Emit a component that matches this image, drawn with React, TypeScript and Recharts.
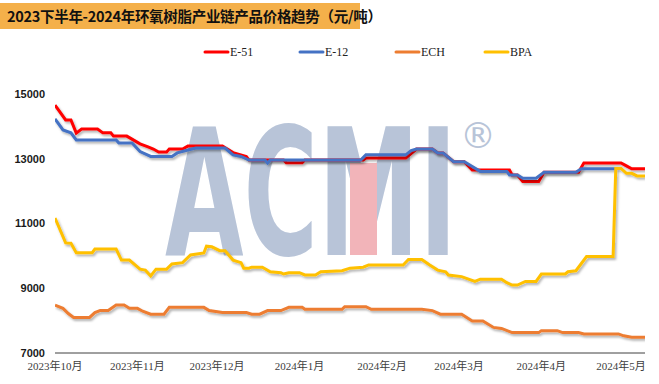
import React from 'react';
import { LineChart, Line, XAxis, YAxis } from 'recharts';

const titleText = '2023下半年-2024年环氧树脂产业链产品价格趋势（元/吨）';
const monthLabels = ['2023年10月', '2023年11月', '2023年12月', '2024年1月', '2024年2月', '2024年3月', '2024年4月', '2024年5月'];
const monthStartDays = [0, 31, 61, 92, 123, 152, 183, 213];
const yTicks = [7000, 9000, 11000, 13000, 15000];

const e51Days = [0, 4, 6, 8, 10, 16, 18, 21, 22, 27, 32, 35, 37, 39, 42, 43, 48, 50, 63, 67, 72, 73, 86, 87, 93, 94, 116, 117, 132, 136, 142, 144, 146, 150, 154, 157, 171, 172, 174, 176, 182, 184, 197, 199, 213, 215, 217, 222];
const e51Values = [14660, 14200, 14200, 13790, 13920, 13920, 13800, 13800, 13700, 13700, 13460, 13370, 13300, 13210, 13210, 13300, 13300, 13390, 13390, 13190, 13070, 12960, 12960, 12880, 12880, 12960, 12960, 13020, 13020, 13300, 13300, 13180, 13180, 12910, 12910, 12650, 12650, 12500, 12500, 12300, 12300, 12580, 12580, 12870, 12870, 12780, 12690, 12690];

const e12Days = [0, 3, 6, 8, 23, 24, 29, 32, 36, 44, 46, 50, 53, 64, 67, 70, 73, 79, 80, 81, 115, 117, 132, 134, 136, 142, 144, 146, 150, 154, 157, 160, 170, 171, 174, 176, 181, 184, 196, 198, 211];
const e12Values = [14230, 13890, 13800, 13580, 13580, 13490, 13490, 13220, 13070, 13070, 13180, 13270, 13330, 13330, 13120, 13070, 12960, 12960, 12870, 12960, 12960, 13120, 13120, 13250, 13300, 13300, 13180, 13180, 12910, 12910, 12760, 12610, 12610, 12500, 12500, 12400, 12400, 12580, 12580, 12690, 12690];

const echDays = [0, 3, 5, 7, 13, 15, 17, 20, 23, 26, 28, 31, 33, 36, 41, 43, 56, 58, 63, 72, 74, 77, 80, 85, 88, 93, 94, 108, 109, 117, 119, 138, 142, 145, 153, 157, 161, 165, 168, 172, 182, 183, 189, 191, 197, 199, 212, 214, 217, 222];
const echValues = [8480, 8380, 8220, 8100, 8100, 8250, 8310, 8310, 8480, 8480, 8380, 8380, 8290, 8200, 8200, 8410, 8410, 8310, 8250, 8250, 8200, 8200, 8310, 8310, 8410, 8410, 8350, 8350, 8430, 8430, 8350, 8350, 8310, 8200, 8200, 7990, 7990, 7790, 7760, 7630, 7630, 7690, 7690, 7630, 7630, 7590, 7590, 7530, 7490, 7490];

const bpaDays = [0, 4, 6, 8, 14, 15, 23, 25, 28, 32, 34, 36, 38, 42, 44, 48, 51, 56, 57, 59, 62, 64, 67, 70, 71, 73, 74, 78, 81, 85, 86, 88, 92, 94, 98, 100, 108, 111, 116, 118, 131, 133, 138, 141, 144, 147, 148, 153, 158, 160, 168, 170, 172, 174, 177, 181, 183, 192, 193, 196, 200, 210, 211, 213, 215, 217, 219, 222];
const bpaValues = [11170, 10400, 10390, 10100, 10100, 10210, 10210, 9870, 9870, 9590, 9560, 9380, 9590, 9590, 9750, 9790, 10030, 10090, 10300, 10280, 10160, 10160, 9870, 9790, 9620, 9620, 9650, 9650, 9510, 9480, 9440, 9480, 9480, 9410, 9410, 9510, 9540, 9620, 9650, 9720, 9720, 9890, 9890, 9720, 9560, 9510, 9410, 9360, 9210, 9280, 9280, 9170, 9100, 9100, 9210, 9210, 9440, 9440, 9510, 9540, 9980, 9980, 12700, 12700, 12550, 12550, 12470, 12470];

const seriesNames = ['E-51', 'E-12', 'ECH', 'BPA'];
const seriesColors = ['#FF0000', '#4472C4', '#ED7D31', '#FFC000'];
const seriesDays = [e51Days, e12Days, echDays, bpaDays];
const seriesValues = [e51Values, e12Values, echValues, bpaValues];

const seriesData = seriesDays.map((days, s) => days.map((d, i) => ({ day: d, value: seriesValues[s][i] })));

const legendLeft = [205, 300, 396, 485];

export default function App() {
  return (
    <div style={{ position: 'absolute', left: 0, top: 0, width: 659, height: 384, background: '#fff', overflow: 'hidden' }}>
      {/* watermark */}
      <svg width={659} height={384} style={{ position: 'absolute', left: 0, top: 0 }}>
        <text x={165} y={255} fontSize={176} fontWeight={900} fontFamily="DejaVu Sans" fill="#B8C4D8" textLength={292} lengthAdjust="spacingAndGlyphs">ACMI</text>
        <rect x={350} y={163} width={27} height={92} fill="#F2B4B9" />
        <text x={460} y={148} fontSize={36} fontFamily="DejaVu Sans" fill="#B8C4D8">®</text>
      </svg>
      {/* title */}
      <div style={{ position: 'absolute', left: 0, top: 3, width: 360, height: 26, background: '#F4B04A', fontFamily: '"Noto Sans CJK SC", sans-serif', fontWeight: 700, fontSize: 14.5, lineHeight: '26px', paddingLeft: 7, boxSizing: 'border-box', color: '#111', whiteSpace: 'nowrap', letterSpacing: -0.3 }}>
        {titleText}
      </div>
      {/* legend */}
      <svg width={659} height={20} style={{ position: 'absolute', left: 0, top: 42 }}>
        {seriesNames.map((n, i) => (
          <g key={n}>
            <line x1={legendLeft[i]} x2={legendLeft[i] + 23} y1={10} y2={10} stroke={seriesColors[i]} strokeWidth={3} strokeLinecap="round" />
            <text x={legendLeft[i] + 25} y={14} fontSize={12} fontFamily='"Liberation Serif", serif' fill="#222">{n}</text>
          </g>
        ))}
      </svg>
      <div style={{ position: 'absolute', left: 0, top: 0 }}>
        <LineChart width={659} height={384} margin={{ top: 94, right: 14, bottom: 11, left: 0 }}>
          <defs>
            <filter id="lshadow" x="-5%" y="-20%" width="110%" height="140%">
              <feDropShadow dx={1.5} dy={2} stdDeviation={1} floodColor="#000" floodOpacity={0.3} />
            </filter>
          </defs>
          <XAxis
            dataKey="day"
            type="number"
            domain={[0, 222]}
            ticks={monthStartDays}
            tickFormatter={(v: number) => monthLabels[monthStartDays.indexOf(v)]}
            tickLine={false}
            tickSize={0}
            tickMargin={9}
            height={20}
            axisLine={{ stroke: '#404040', strokeWidth: 1 }}
            tick={{ fontSize: 11, fill: '#404040', fontFamily: '"Liberation Serif", "Noto Sans CJK SC", serif' }}
            interval={0}
            allowDataOverflow
          />
          <YAxis
            type="number"
            domain={[7000, 15000]}
            ticks={yTicks}
            width={55}
            axisLine={false}
            tickLine={false}
            tickSize={0}
            tickMargin={10}
            tick={{ fontSize: 11, fontWeight: 700, fill: '#1a1a1a', fontFamily: '"Liberation Sans", Arial, sans-serif' }}
          />
          {seriesNames.map((n, i) => (
            <Line
              key={n}
              data={seriesData[i]}
              dataKey="value"
              name={n}
              type="linear"
              stroke={seriesColors[i]}
              strokeWidth={3}
              dot={false}
              activeDot={false}
              isAnimationActive={false}
              filter="url(#lshadow)"
            />
          ))}
        </LineChart>
      </div>
    </div>
  );
}
